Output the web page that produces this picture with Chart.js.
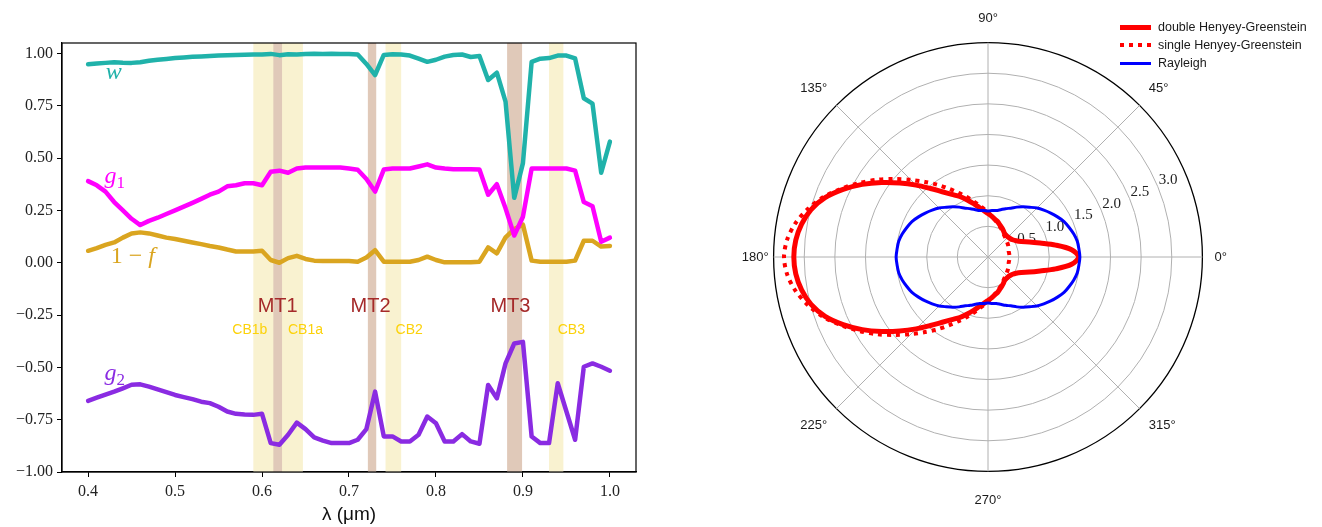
<!DOCTYPE html>
<html><head><meta charset="utf-8">
<script src="https://cdn.jsdelivr.net/npm/chart.js@4.4.1/dist/chart.umd.min.js"></script>
<style>
html,body{margin:0;padding:0;background:#fff;}
#wrap{position:relative;width:1322px;height:527px;overflow:hidden;background:#fff;}
#c1{position:absolute;left:0;top:0;}
#c2{position:absolute;left:690px;top:0;}
#legend{position:absolute;left:1120px;top:18px;font:12.5px "Liberation Sans",Arial,sans-serif;color:#1a1a1a;}
.item{display:flex;align-items:center;height:18px;white-space:nowrap;}
.sw{width:31px;margin-right:7px;}
</style></head><body>
<div id="wrap">
<canvas id="c1" width="660" height="527"></canvas>
<canvas id="c2" width="632" height="527"></canvas>
<div id="legend"></div>
</div>
<script>
// ---------- left panel data ----------
const lambda = [0.40,0.41,0.42,0.43,0.44,0.45,0.46,0.47,0.48,0.49,
  0.50,0.51,0.52,0.53,0.54,0.55,0.56,0.57,0.58,0.59,
  0.60,0.61,0.62,0.63,0.64,0.65,0.66,0.67,0.68,0.69,
  0.70,0.71,0.72,0.73,0.74,0.75,0.76,0.77,0.78,0.79,
  0.80,0.81,0.82,0.83,0.84,0.85,0.86,0.87,0.88,0.89,
  0.90,0.91,0.92,0.93,0.94,0.95,0.96,0.97,0.98,0.99,1.00];
const w = [0.948,0.952,0.955,0.958,0.956,0.955,0.958,0.965,0.970,0.974,
  0.978,0.981,0.984,0.986,0.988,0.990,0.992,0.993,0.994,0.995,
  0.995,0.998,0.992,0.996,0.995,0.998,0.999,0.998,0.999,0.998,
  0.997,0.995,0.950,0.897,0.993,0.996,0.995,0.990,0.975,0.960,
  0.970,0.985,0.993,0.995,0.983,0.988,0.873,0.908,0.770,0.310,
  0.476,0.960,0.975,0.978,0.990,0.990,0.976,0.786,0.760,0.430,0.579];
const g1 = [0.39,0.37,0.34,0.29,0.25,0.21,0.18,0.20,0.215,0.233,
  0.25,0.268,0.286,0.305,0.325,0.34,0.365,0.37,0.38,0.38,
  0.37,0.435,0.44,0.43,0.45,0.455,0.455,0.455,0.455,0.455,
  0.45,0.444,0.40,0.34,0.445,0.45,0.45,0.45,0.46,0.47,
  0.455,0.45,0.447,0.447,0.447,0.445,0.325,0.375,0.26,0.13,
  0.22,0.45,0.45,0.45,0.45,0.45,0.44,0.29,0.27,0.10,0.12];
const oneMinusF = [0.057,0.07,0.085,0.097,0.12,0.14,0.145,0.14,0.13,0.12,
  0.113,0.105,0.097,0.089,0.08,0.073,0.063,0.054,0.054,0.054,
  0.057,0.013,0.0,0.022,0.033,0.018,0.01,0.008,0.008,0.008,
  0.008,0.005,0.025,0.06,0.005,0.005,0.005,0.005,0.013,0.029,
  0.013,0.002,0.002,0.002,0.002,0.005,0.073,0.045,0.121,0.161,
  0.182,0.01,0.005,0.005,0.005,0.005,0.01,0.105,0.105,0.077,0.08];
const g2 = [-0.660,-0.645,-0.630,-0.616,-0.600,-0.583,-0.581,-0.592,-0.605,-0.618,
  -0.632,-0.642,-0.652,-0.664,-0.671,-0.688,-0.711,-0.722,-0.725,-0.727,
  -0.722,-0.862,-0.870,-0.822,-0.764,-0.795,-0.835,-0.850,-0.862,-0.862,
  -0.862,-0.846,-0.795,-0.616,-0.830,-0.830,-0.854,-0.854,-0.822,-0.735,
  -0.767,-0.854,-0.854,-0.819,-0.854,-0.865,-0.584,-0.648,-0.481,-0.386,
  -0.378,-0.830,-0.862,-0.862,-0.576,-0.711,-0.846,-0.497,-0.481,-0.497,-0.516];
const xTicks = [0.4,0.5,0.6,0.7,0.8,0.9,1.0];
const yTicks = [-1,-0.75,-0.5,-0.25,0,0.25,0.5,0.75,1];

const cbBands = [[0.590,0.647],[0.742,0.760],[0.930,0.9465]];
const mtBands = [[0.613,0.623],[0.7217,0.7313],[0.8818,0.899]];
const mtNames = ['MT1','MT2','MT3'];
const mtLabelX = [0.618,0.7248,0.8856];
const mtLabelY = -0.208;
const cbNames = ['CB1b','CB1a','CB2','CB3'];
const cbLabelX = [0.586,0.650,0.7692,0.9557];
const cbLabelY = -0.322;
const curveNames = ['w','g_1','1 − f','g_2'];
const curveLabelX = [0.4295,0.4307,0.4514,0.4307];
const curveLabelY = [0.88,0.382,-0.003,-0.560];
const curveColors = ['#20b2aa','#ff00ff','#daa520','#8a2be2'];

// ---------- right panel data (angle 0..180 step 5, symmetric) ----------
const halfAngles = [0,5,10,15,20,25,30,35,40,45,50,55,60,65,70,75,80,85,90,
  95,100,105,110,115,120,125,130,135,140,145,150,155,160,165,170,175,180];
const doubleHG = [1.48,1.37,1.12,0.88,0.72,0.60,0.53,0.49,0.47,0.46,0.46,0.47,0.50,0.53,0.56,0.60,0.63,0.67,0.71,
  0.76,0.82,0.90,0.99,1.09,1.18,1.30,1.46,1.66,1.88,2.12,2.37,2.61,2.83,2.99,3.09,3.15,3.17];
const singleHG = [0.35,0.35,0.35,0.35,0.36,0.37,0.38,0.39,0.40,0.42,0.43,0.45,0.48,0.51,0.54,0.58,0.62,0.67,0.73,
  0.79,0.86,0.95,1.05,1.16,1.29,1.44,1.60,1.78,1.98,2.20,2.42,2.64,2.86,3.04,3.19,3.29,3.33];
const rayleigh = [1.50,1.49,1.48,1.45,1.41,1.37,1.31,1.25,1.19,1.13,1.06,1.00,0.94,0.88,0.84,0.80,0.77,0.76,0.75,
  0.76,0.77,0.80,0.84,0.88,0.94,1.00,1.06,1.13,1.19,1.25,1.31,1.37,1.41,1.45,1.48,1.49,1.50];
const rTickLabels = [0.5,1.0,1.5,2.0,2.5,3.0];
const angleLabelStep = 45;

// ---------- left chart ----------
const serif = '"Liberation Serif","DejaVu Serif",serif';
const sans = '"Liberation Sans",Arial,sans-serif';
function pts(arr){ return lambda.map((x,i)=>({x:x, y:arr[i]})); }

function drawMath(ctx, text, cx, baseY, color, size){
  const segs = [];
  for (let i=0;i<text.length;i++){
    const ch = text[i];
    if (ch === '_'){ segs.push({t:text[++i], sub:true, it:false}); continue; }
    segs.push({t:ch, sub:false, it:/[a-z]/.test(ch)});
  }
  const fontFor = s => (s.it?'italic ':'') + (s.sub? Math.round(size*0.7): size) + 'px ' + serif;
  let total = 0;
  segs.forEach(s=>{ ctx.font = fontFor(s); s.w = ctx.measureText(s.t).width; total += s.w; });
  let x = cx - total/2;
  ctx.fillStyle = color; ctx.textAlign = 'left'; ctx.textBaseline = 'alphabetic';
  segs.forEach(s=>{ ctx.font = fontFor(s); ctx.fillText(s.t, x, baseY + (s.sub? size*0.22 : 0)); x += s.w; });
}

const bandPlugin = {
  id:'bands',
  beforeDatasetsDraw(chart){
    const {ctx, chartArea:a, scales:{x,y}} = chart;
    ctx.save();
    ctx.beginPath(); ctx.rect(a.left,a.top,a.right-a.left,a.bottom-a.top); ctx.clip();
    ctx.fillStyle = '#f9f2d0';
    cbBands.forEach(b=>{ const x0=x.getPixelForValue(b[0]), x1=x.getPixelForValue(b[1]); ctx.fillRect(x0,a.top,x1-x0,a.bottom-a.top); });
    ctx.fillStyle = '#e0c9b9';
    mtBands.forEach(b=>{ const x0=x.getPixelForValue(b[0]), x1=x.getPixelForValue(b[1]); ctx.fillRect(x0,a.top,x1-x0,a.bottom-a.top); });
    ctx.textAlign='center'; ctx.textBaseline='middle';
    ctx.font = '20px ' + sans; ctx.fillStyle = '#a52a2a';
    mtNames.forEach((n,i)=> ctx.fillText(n, x.getPixelForValue(mtLabelX[i]), y.getPixelForValue(mtLabelY)));
    ctx.font = '14px ' + sans; ctx.fillStyle = '#fcd20a';
    cbNames.forEach((n,i)=> ctx.fillText(n, x.getPixelForValue(cbLabelX[i]), y.getPixelForValue(cbLabelY)));
    curveNames.forEach((n,i)=> drawMath(ctx, n, x.getPixelForValue(curveLabelX[i]), y.getPixelForValue(curveLabelY[i]), curveColors[i], 24));
    ctx.restore();
  },
  afterDatasetsDraw(chart){
    const {ctx, chartArea:a} = chart;
    ctx.save(); ctx.strokeStyle='#000'; ctx.lineWidth=1.2;
    ctx.strokeRect(a.left, a.top, a.right-a.left, a.bottom-a.top);
    ctx.restore();
  }
};

const lineDs = (label, arr, color) => ({label, data: pts(arr), borderColor: color, borderWidth: 4.5,
  pointRadius: 0, tension: 0, fill: false, borderJoinStyle: 'round', borderCapStyle: 'round'});

new Chart(document.getElementById('c1'), {
  type: 'line',
  data: { datasets: [
    lineDs('w', w, curveColors[0]),
    lineDs('g1', g1, curveColors[1]),
    lineDs('1-f', oneMinusF, curveColors[2]),
    lineDs('g2', g2, curveColors[3])
  ]},
  options: {
    responsive: false, animation: false, events: [],
    layout: { padding: { top: 43, right: 24, left: 0, bottom: 0 } },
    plugins: { legend: { display: false }, tooltip: { enabled: false } },
    scales: {
      x: { type: 'linear', min: 0.37, max: 1.03,
        afterBuildTicks: s => { s.ticks = xTicks.map(v=>({value:v})); },
        afterFit: s => { s.height = 55; },
        grid: { drawOnChartArea: false, drawTicks: true, tickLength: 5, color: '#000', lineWidth: 1 },
        border: { display: true, color: '#000', width: 1.2 },
        ticks: { color: '#222', padding: 5, font: { family: serif, size: 16 }, maxRotation: 0,
          callback: v => v.toFixed(1) },
        title: { display: true, text: 'λ (μm)', color: '#111', font: { family: sans, size: 19 }, padding: { top: 0, bottom: 1 } }
      },
      y: { min: -1, max: 1.05,
        afterBuildTicks: s => { s.ticks = yTicks.map(v=>({value:v})); },
        afterFit: s => { s.width = 62; },
        grid: { drawOnChartArea: false, drawTicks: true, tickLength: 5, color: '#000', lineWidth: 1 },
        border: { display: true, color: '#000', width: 1.2 },
        ticks: { color: '#222', padding: 4, font: { family: serif, size: 16 },
          callback: v => (v < 0 ? '\u2212' : '') + Math.abs(v).toFixed(2) }
      }
    }
  },
  plugins: [bandPlugin]
});

// ---------- right (polar) chart ----------
const N = 72;
const thetaOfIndex = i => (90 - 5*i + 720) % 360;
const angleLabels = Array.from({length:N}, (_,i)=> thetaOfIndex(i));
function full(half){ return angleLabels.map(t => half[halfAngles.indexOf(t <= 180 ? t : 360 - t)]); }

const labelPad = {0:12, 45:13, 90:16.5, 135:13, 180:5, 225:13, 270:21, 315:13};

const rLabelPlugin = {
  id:'rlabels',
  beforeDatasetsDraw(chart){
    const s = chart.scales.r, ctx = chart.ctx;
    const a = 22.5*Math.PI/180;
    ctx.save();
    ctx.font = '15px ' + serif; ctx.fillStyle = '#222';
    ctx.textAlign = 'left'; ctx.textBaseline = 'bottom';
    rTickLabels.forEach(v=>{
      const d = s.getDistanceFromCenterForValue(v);
      ctx.fillText(v.toFixed(1), s.xCenter + d*Math.cos(a) + 1, s.yCenter - d*Math.sin(a) + 1);
    });
    ctx.restore();
  }
};

const polar = new Chart(document.getElementById('c2'), {
  type: 'radar',
  data: { labels: angleLabels, datasets: [
    { label: 'double Henyey-Greenstein', data: full(doubleHG), borderColor: '#ff0000', borderWidth: 5, pointRadius: 0, fill: false, tension: 0.3, order: 2 },
    { label: 'single Henyey-Greenstein', data: full(singleHG), borderColor: '#ff0000', borderWidth: 4, borderDash: [4,5], pointRadius: 0, fill: false, tension: 0.3, order: 1 },
    { label: 'Rayleigh', data: full(rayleigh), borderColor: '#0000ff', borderWidth: 3, pointRadius: 0, fill: false, tension: 0.3, order: 0 }
  ]},
  options: {
    responsive: false, animation: false, events: [],
    layout: { padding: { top: 9, bottom: 16, left: 8, right: 44 } },
    plugins: { legend: { display: false }, tooltip: { enabled: false } },
    scales: { r: {
      min: 0, max: 3.5, startAngle: 0,
      ticks: { display: false, stepSize: 0.5 },
      grid: { circular: true,
        color: c => (c.tick && c.tick.value === 3.5) ? '#000' : '#b0b0b0',
        lineWidth: c => (c.tick && c.tick.value === 3.5) ? 1.3 : 1 },
      angleLines: { display: true,
        color: c => (angleLabels[c.index] % angleLabelStep === 0) ? '#b0b0b0' : 'rgba(0,0,0,0)',
        lineWidth: c => (angleLabels[c.index] % angleLabelStep === 0) ? 1 : 0 },
      pointLabels: { display: true, color: '#1a1a1a', font: { family: sans, size: 13 },
        padding: c => { const t = angleLabels[c.index]; return (t % angleLabelStep === 0) ? labelPad[t] : 0; },
        callback: (lab, i) => (angleLabels[i] % angleLabelStep === 0) ? (angleLabels[i] + '°') : '' }
    }}
  },
  plugins: [rLabelPlugin]
});

// legend built from the chart's datasets
const leg = document.getElementById('legend');
polar.data.datasets.forEach(ds=>{
  const it = document.createElement('div'); it.className='item';
  const sw = document.createElement('div'); sw.className='sw';
  sw.style.height = ds.borderWidth + 'px';
  if (ds.borderDash) sw.style.background = `repeating-linear-gradient(to right, ${ds.borderColor} 0 ${ds.borderDash[0]}px, transparent ${ds.borderDash[0]}px ${ds.borderDash[0]+ds.borderDash[1]}px)`;
  else sw.style.background = ds.borderColor;
  const tx = document.createElement('span'); tx.textContent = ds.label;
  it.appendChild(sw); it.appendChild(tx); leg.appendChild(it);
});
</script>
</body></html>
